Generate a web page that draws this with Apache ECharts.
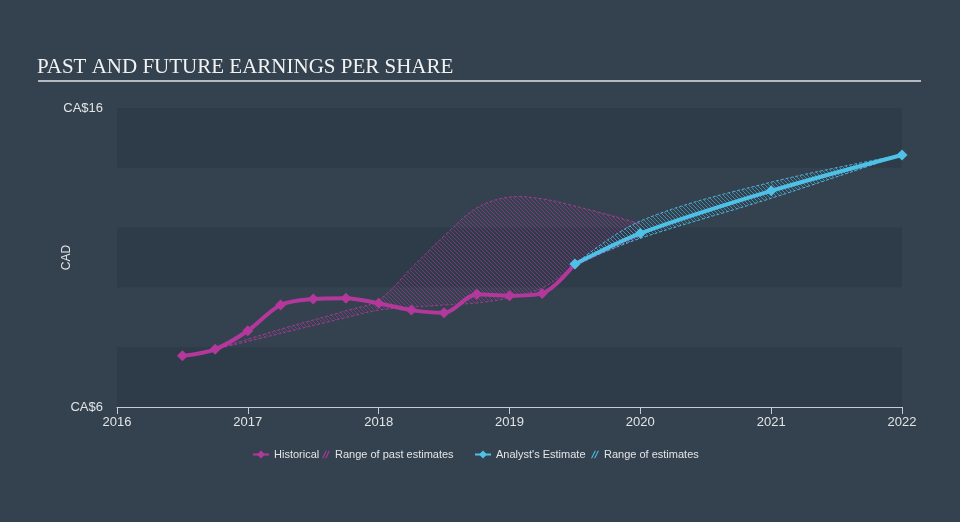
<!DOCTYPE html>
<html>
<head>
<meta charset="utf-8">
<script src="https://cdn.jsdelivr.net/npm/echarts@6/dist/echarts.min.js"></script>
<style>html,body{margin:0;padding:0;background:#344250;}#c{width:960px;height:522px;}</style>
</head>
<body>
<div id="c"></div>
<script>
// ---- data ----
const titleText = 'PAST AND FUTURE EARNINGS PER SHARE';
const xTicks = [2016, 2017, 2018, 2019, 2020, 2021, 2022];
const yTickLabels = { 6: 'CA$6', 16: 'CA$16' };

const histX = [2016.5, 2016.75, 2017.0, 2017.25, 2017.5, 2017.75, 2018.0, 2018.25, 2018.5, 2018.75, 2019.0, 2019.25, 2019.5];
const histY = [7.71, 7.93, 8.55, 9.41, 9.61, 9.64, 9.47, 9.24, 9.15, 9.77, 9.72, 9.80, 10.78];

const pastRangeX = [2016.75, 2017.25, 2017.75, 2018.0, 2018.25, 2018.5, 2018.75, 2019.0, 2019.25, 2019.5, 2020.0];
const pastLow    = [7.93, 8.46, 8.99, 9.24, 9.34, 9.41, 9.48, 9.65, 9.98, 10.70, 11.72];
const pastHigh   = [7.93, 8.60, 9.22, 9.58, 10.65, 11.72, 12.66, 13.02, 12.96, 12.72, 12.12];

const estX = [2019.5, 2020.0, 2021.0, 2022.0];
const estY = [10.78, 11.81, 13.23, 14.43];
const estLow  = [10.78, 11.64, 12.98, 14.43];
const estHigh = [10.78, 12.22, 13.52, 14.43];

// ---- styling helpers ----
const PINK = '#b4389c';
const BLUE = '#4fc0e6';
function hatch(color) {
  const s = 4;
  const cv = document.createElement('canvas');
  cv.width = s; cv.height = s;
  const ctx = cv.getContext('2d');
  ctx.strokeStyle = color;
  ctx.lineWidth = 1;
  for (const k of [-s, 0, s]) {
    ctx.beginPath();
    ctx.moveTo(k, 0);
    ctx.lineTo(k + s, s);
    ctx.stroke();
  }
  return { image: cv, repeat: 'repeat' };
}
const pair = (xs, ys) => xs.map((x, i) => [x, ys[i]]);
const rows = (xs, lo, hi) => xs.map((x, i) => [x, lo[i], hi[i]]);

function rangeSeries(name, xs, lo, hi, lineColor, fillColor, z) {
  const fill = hatch(fillColor);
  return {
    name: name, type: 'custom', z: z, clip: true,
    data: rows(xs, lo, hi),
    encode: { x: 0, y: [1, 2] },
    itemStyle: { color: lineColor },
    renderItem: function (params, api) {
      if (params.dataIndex !== 0) return null;
      const upper = xs.map((x, i) => api.coord([x, hi[i]]));
      const lower = xs.map((x, i) => api.coord([x, lo[i]]));
      const poly = upper.concat(lower.slice().reverse());
      return {
        type: 'group',
        children: [
          { type: 'polygon', shape: { points: poly, smooth: 0.35 }, style: { fill: fill, stroke: null } },
          { type: 'polyline', shape: { points: upper, smooth: 0.35 }, style: { fill: null, stroke: lineColor, lineWidth: 1, lineDash: [3, 2] } },
          { type: 'polyline', shape: { points: lower, smooth: 0.35 }, style: { fill: null, stroke: lineColor, lineWidth: 1, lineDash: [3, 2] } }
        ]
      };
    }
  };
}

const hatchIcon = 'path://M0,10 L5,0 L6.5,0 L1.5,10 Z M4,10 L9,0 L10.5,0 L5.5,10 Z';
const FONT = 'Liberation Sans, Arial, sans-serif';

const chart = echarts.init(document.getElementById('c'), null, { renderer: 'canvas' });
const legendBase = {
  top: 449, itemHeight: 10, itemWidth: 16, padding: 0,
  textStyle: { color: '#e2e4e6', fontSize: 11, fontFamily: FONT },
  selectedMode: false
};
chart.setOption({
  backgroundColor: '#344250',
  animation: false,
  title: {
    text: titleText, left: 37, top: 57, padding: 0,
    textStyle: { fontFamily: 'Liberation Serif, Times New Roman, serif', fontSize: 21, fontWeight: 'normal', color: '#f2f2f2' }
  },
  graphic: [{ type: 'line', shape: { x1: 38, y1: 81, x2: 921, y2: 81 }, style: { stroke: '#b3b9c1', lineWidth: 2 }, silent: true }],
  grid: { left: 117, right: 58, top: 108, bottom: 115 },
  legend: [
    Object.assign({}, legendBase, { left: 252, data: [{ name: 'Historical' }] }),
    Object.assign({}, legendBase, { left: 322, itemWidth: 8, data: [{ name: 'Range of past estimates', icon: hatchIcon, itemStyle: { color: PINK } }] }),
    Object.assign({}, legendBase, { left: 474, data: [{ name: "Analyst's Estimate" }] }),
    Object.assign({}, legendBase, { left: 591, itemWidth: 8, data: [{ name: 'Range of estimates', icon: hatchIcon, itemStyle: { color: BLUE } }] })
  ],
  xAxis: {
    type: 'value', min: xTicks[0], max: xTicks[xTicks.length - 1], interval: 1,
    axisLine: { lineStyle: { color: '#c4ccd5', width: 1 } },
    axisTick: { length: 7, lineStyle: { color: '#c4ccd5' } },
    axisLabel: { color: '#e2e4e6', fontSize: 13, margin: 9, fontFamily: FONT, formatter: v => String(v) },
    splitLine: { show: false }
  },
  yAxis: {
    type: 'value', min: 6, max: 16, interval: 2,
    name: 'CAD', nameLocation: 'middle', nameGap: 44, nameMoveOverlap: false,
    nameTextStyle: { color: '#e2e4e6', fontSize: 12, fontFamily: FONT },
    axisLine: { show: false }, axisTick: { show: false }, splitLine: { show: false },
    splitArea: { show: true, areaStyle: { color: ['#2e3b49', 'rgba(0,0,0,0)'] } },
    axisLabel: { color: '#e2e4e6', fontSize: 13, margin: 14, fontFamily: FONT, formatter: v => yTickLabels[v] || '' }
  },
  series: [
    rangeSeries('Range of past estimates', pastRangeX, pastLow, pastHigh, 'rgba(180,56,156,0.85)', 'rgba(180,56,156,0.55)', 1),
    rangeSeries('Range of estimates', estX, estLow, estHigh, 'rgba(79,192,230,0.9)', 'rgba(79,192,230,0.6)', 2),
    {
      name: 'Historical', type: 'line', smooth: 0.3, z: 4, clip: false,
      data: pair(histX, histY),
      symbol: 'diamond', symbolSize: 11, showSymbol: true,
      itemStyle: { color: PINK },
      lineStyle: { color: PINK, width: 4 }
    },
    {
      name: "Analyst's Estimate", type: 'line', smooth: 0.3, z: 5, clip: false,
      data: pair(estX, estY),
      symbol: 'diamond', symbolSize: 11, showSymbol: true,
      itemStyle: { color: BLUE },
      lineStyle: { color: BLUE, width: 4 }
    }
  ]
});
</script>
</body>
</html>
